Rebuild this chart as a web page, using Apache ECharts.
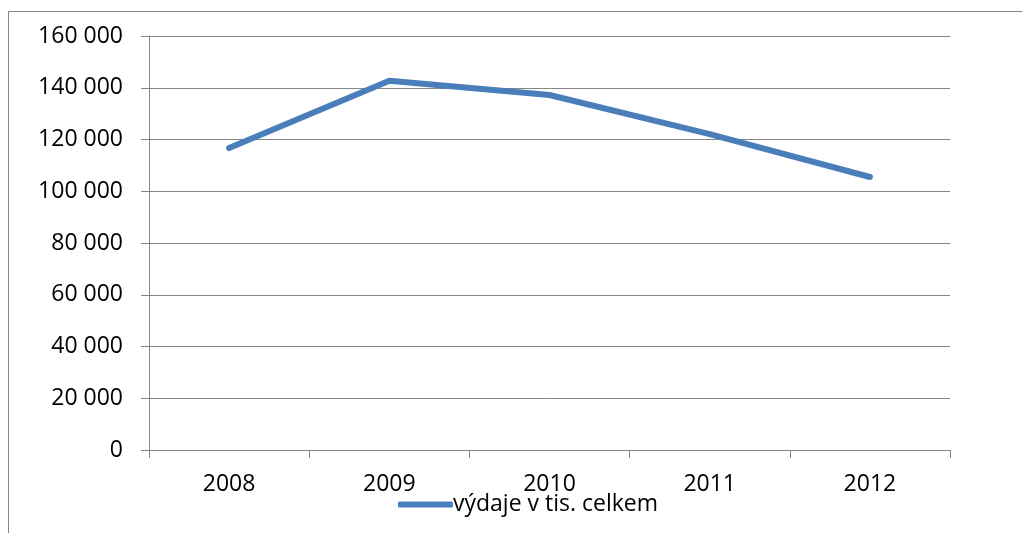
<!DOCTYPE html>
<html>
<head>
<meta charset="utf-8">
<script src="https://cdn.jsdelivr.net/npm/echarts@6/dist/echarts.min.js"></script>
<style>
  html, body { margin: 0; padding: 0; background: #fff; overflow: hidden; }
  #chart { width: 1022px; height: 533px; }
</style>
</head>
<body>
<div id="chart"></div>
<script>
let years = ['2008', '2009', '2010', '2011', '2012']
let vydaje = [116700, 142700, 137200, 122100, 105500]
let seriesName = 'výdaje v tis. celkem'

let chart = echarts.init(document.querySelector('#chart'))

function fmt(v) {
    return String(v).replace(/\B(?=(\d{3})+(?!\d))/g, ' ')
}

let gray = '#868686'
let font = '"Open Sans", "Noto Sans", sans-serif'

chart.setOption({
    animation: false,
    graphic: [{
        type: 'rect',
        shape: {x: 8.5, y: 11.5, width: 1100, height: 600},
        style: {fill: 'none', stroke: gray, lineWidth: 1},
        silent: true
    }],
    grid: {
        left: 149,
        right: 72,
        top: 36,
        bottom: 83,
        containLabel: false,
        outerBoundsMode: 'none'
    },
    legend: {
        data: [{name: seriesName, icon: 'roundRect'}],
        left: 393,
        top: 488,
        itemWidth: 55,
        itemHeight: 6,
        itemGap: 0,
        textStyle: {color: '#000', fontSize: 23, fontFamily: font, padding: [0, 0, 0, -5]}
    },
    xAxis: {
        type: 'category',
        data: years,
        boundaryGap: true,
        axisLine: {lineStyle: {color: gray, width: 1}},
        axisTick: {show: true, length: 8, alignWithLabel: false, lineStyle: {color: gray}},
        axisLabel: {color: '#000', fontSize: 23, fontFamily: font, margin: 23},
        splitLine: {show: false}
    },
    yAxis: {
        type: 'value',
        min: 0,
        max: 160000,
        interval: 20000,
        axisLine: {show: true, lineStyle: {color: gray, width: 1}},
        axisTick: {show: true, length: 8, lineStyle: {color: gray}},
        axisLabel: {color: '#000', fontSize: 23, fontFamily: font, margin: 26, formatter: fmt},
        splitLine: {show: true, lineStyle: {color: gray, width: 1}}
    },
    series: [{
        name: seriesName,
        type: 'line',
        data: vydaje,
        symbol: 'none',
        lineStyle: {color: '#4a7ebb', width: 6, cap: 'round', join: 'round'},
        itemStyle: {color: '#4a7ebb'}
    }]
})
</script>
</body>
</html>
